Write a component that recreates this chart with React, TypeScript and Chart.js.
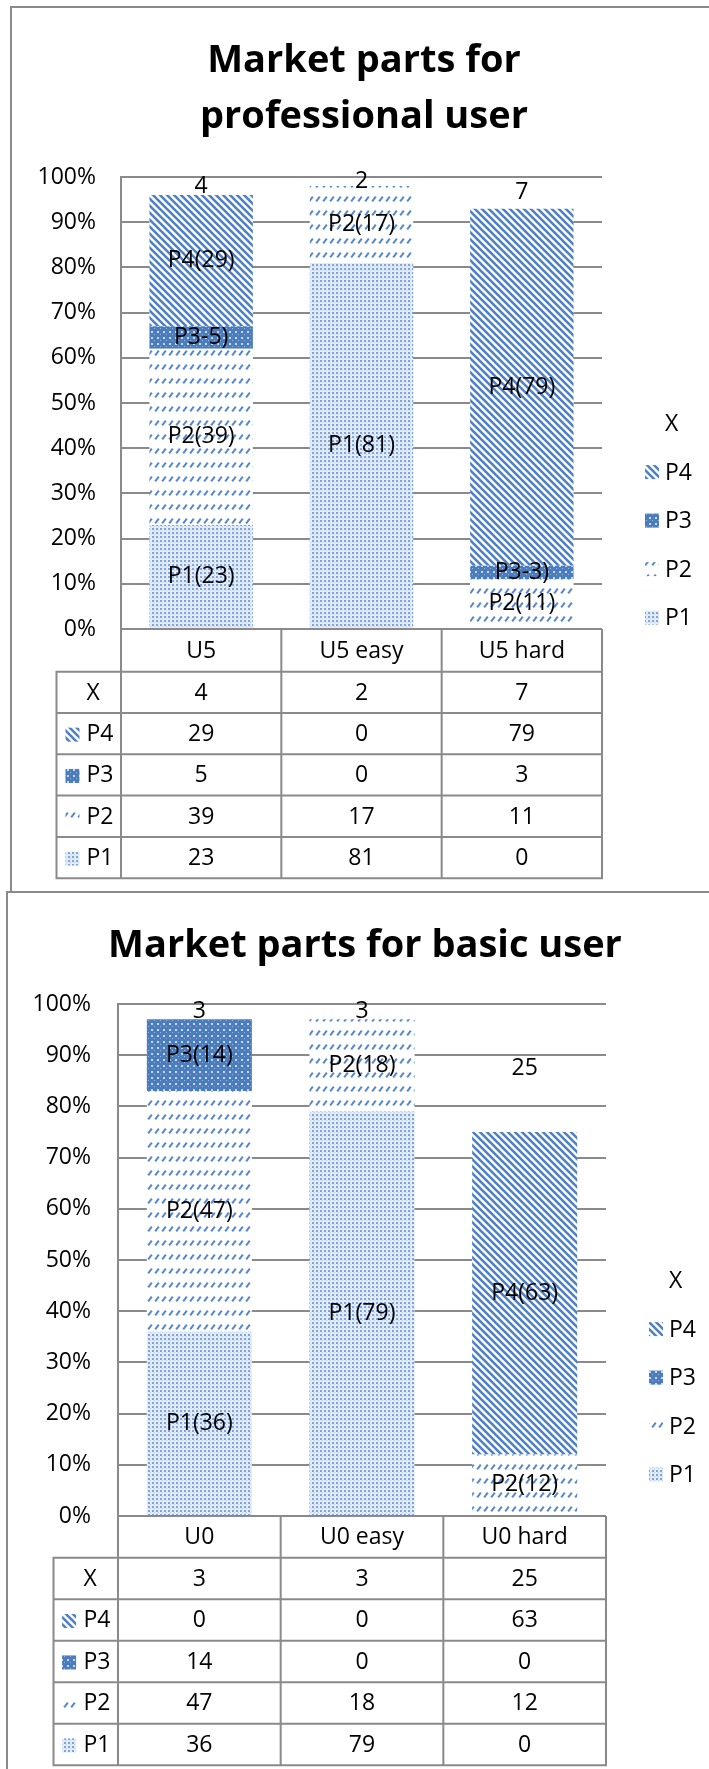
import React, { useEffect, useRef } from "react";
import { Chart, registerables } from "chart.js";

Chart.register(...registerables);

// ---------------- data ----------------
const seriesNames = ["P1", "P2", "P3", "P4", "X"];

const proTitle = ["Market parts for", "professional user"];
const proCategories = ["U5", "U5 easy", "U5 hard"];
const proP1 = [23, 81, 0];
const proP2 = [39, 17, 11];
const proP3 = [5, 0, 3];
const proP4 = [29, 0, 79];
const proX = [4, 2, 7];
const proLabelFormats = ["P1({v})", "P2({v})", "P3-{v})", "P4({v})", "{v}"];

const basicTitle = ["Market parts for basic user"];
const basicCategories = ["U0", "U0 easy", "U0 hard"];
const basicP1 = [36, 79, 0];
const basicP2 = [47, 18, 12];
const basicP3 = [14, 0, 0];
const basicP4 = [0, 0, 63];
const basicX = [3, 3, 25];
const basicLabelFormats = ["P1({v})", "P2({v})", "P3({v})", "P4({v})", "{v}"];

const yMin = 0;
const yMax = 100;
const yStep = 10;
const yTickSuffix = "%";

// ---------------- styles ----------------
const FONT = "'Open Sans', Lato, sans-serif";
const FONT_SIZE = 23;
const TITLE_SIZE = 38;
const GRID = "#8a8a8a";
const TEXT = "#000000";

function tile(w: number, h: number, draw: (c: CanvasRenderingContext2D) => void) {
  const cv = document.createElement("canvas");
  cv.width = w;
  cv.height = h;
  const c = cv.getContext("2d")!;
  draw(c);
  return c.createPattern(cv, "repeat") as CanvasPattern;
}

function makePatterns() {
  const p1 = tile(4, 4, (c) => {
    c.fillStyle = "#e4ecf8";
    c.fillRect(0, 0, 4, 4);
    c.fillStyle = "#7fa3da";
    c.fillRect(0, 0, 2, 2);
    c.fillStyle = "#bccfec";
    c.fillRect(2, 2, 1, 1);
  });
  const p2 = tile(7, 14, (c) => {
    c.fillStyle = "#ffffff";
    c.fillRect(0, 0, 7, 14);
    c.strokeStyle = "#5586d0";
    c.lineWidth = 2;
    c.beginPath();
    c.moveTo(1.2, 5.4);
    c.lineTo(4.8, 0.6);
    c.stroke();
  });
  const p3 = tile(6, 6, (c) => {
    c.fillStyle = "#4a7cc0";
    c.fillRect(0, 0, 6, 6);
    c.fillStyle = "rgba(255,255,255,0.7)";
    c.fillRect(1, 1, 2, 2);
    c.fillStyle = "rgba(255,255,255,0.45)";
    c.fillRect(4, 4, 1, 1);
  });
  const p4 = tile(7, 7, (c) => {
    c.fillStyle = "#ffffff";
    c.fillRect(0, 0, 7, 7);
    c.strokeStyle = "#4f81c4";
    c.lineWidth = 2.6;
    c.beginPath();
    for (let k = -1; k <= 2; k++) {
      c.moveTo(k * 7 - 3, -3);
      c.lineTo(k * 7 + 10, 10);
    }
    c.stroke();
  });
  return [p1, p2, p3, p4, "rgba(0,0,0,0)"];
}

const marketPlugin = {
  id: "marketTable",
  afterDatasetsDraw(chart: any) {
    const o = chart.options.plugins.marketTable;
    const ctx = chart.ctx;
    ctx.save();
    ctx.font = `${o.fontSize}px ${FONT}`;
    ctx.fillStyle = TEXT;
    ctx.textAlign = "center";
    ctx.textBaseline = "middle";
    chart.data.datasets.forEach((ds: any, di: number) => {
      const meta = chart.getDatasetMeta(di);
      meta.data.forEach((bar: any, i: number) => {
        const v = ds.data[i];
        if (!v) return;
        const p = bar.getProps(["x", "y", "base"], true);
        const txt = o.labelFormats[di].replace("{v}", String(v));
        ctx.fillText(txt, p.x, (p.y + p.base) / 2);
      });
    });
    ctx.restore();
  },
  afterDraw(chart: any) {
    const o = chart.options.plugins.marketTable;
    const ctx = chart.ctx;
    const area = chart.chartArea;
    const xs = chart.scales.x;
    const labels = chart.data.labels as string[];
    const datasets = chart.data.datasets;
    const n = labels.length;
    const half = (area.right - area.left) / n / 2;
    const edges: number[] = [];
    for (let i = 0; i < n; i++) edges.push(xs.getPixelForValue(i) - half);
    edges.push(xs.getPixelForValue(n - 1) + half);

    const catTop = area.bottom;
    const catBot = catTop + o.catH;
    const order = [4, 3, 2, 1, 0];
    const tableBottom = catBot + order.length * o.rowH;
    const labelLeft = area.left - o.labelColW;

    ctx.save();
    ctx.font = `${o.fontSize}px ${FONT}`;
    ctx.fillStyle = TEXT;
    ctx.textBaseline = "middle";

    // category row
    ctx.textAlign = "center";
    labels.forEach((lab, i) => {
      ctx.fillText(lab, xs.getPixelForValue(i), (catTop + catBot) / 2 + 1);
    });
    // rows
    order.forEach((di, r) => {
      const top = catBot + r * o.rowH;
      const cy = top + o.rowH / 2 + 1;
      const ds = datasets[di];
      if (di !== 4) {
        ctx.fillStyle = ds.backgroundColor;
        ctx.fillRect(labelLeft + o.iconDx, cy - 7, 14, 14);
      }
      ctx.fillStyle = TEXT;
      ctx.textAlign = "left";
      ctx.fillText(ds.label, labelLeft + o.textDx, cy);
      ctx.textAlign = "center";
      ds.data.forEach((v: number, i: number) => {
        ctx.fillText(String(v), xs.getPixelForValue(i), cy);
      });
    });

    // lines
    ctx.strokeStyle = GRID;
    ctx.lineWidth = 2;
    ctx.beginPath();
    ctx.moveTo(area.left, catTop);
    ctx.lineTo(area.right, catTop);
    for (let r = 0; r <= order.length; r++) {
      const y = catBot + r * o.rowH;
      ctx.moveTo(labelLeft - 1, y);
      ctx.lineTo(area.right + 1, y);
    }
    edges.forEach((x) => {
      ctx.moveTo(x, catTop);
      ctx.lineTo(x, tableBottom + 1);
    });
    ctx.moveTo(labelLeft, catBot);
    ctx.lineTo(labelLeft, tableBottom + 1);
    ctx.stroke();

    // legend
    const mid = (area.top + tableBottom) / 2 + o.legendShift;
    order.forEach((di, k) => {
      const cy = mid + (k - 2) * o.legendGap;
      const ds = datasets[di];
      if (di !== 4) {
        ctx.fillStyle = ds.backgroundColor;
        ctx.fillRect(area.right + o.legendIconDx, cy - 7, 14, 14);
      }
      ctx.fillStyle = TEXT;
      ctx.textAlign = "left";
      ctx.fillText(ds.label, area.right + o.legendTextDx, cy + 1);
    });
    ctx.restore();
  },
};

type Cfg = {
  top: number;
  width: number;
  height: number;
  title: string[];
  titlePadTop: number;
  titlePadBottom: number;
  categories: string[];
  series: number[][];
  labelFormats: string[];
  padLeft: number;
  padBottom: number;
  yAxisWidth: number;
  tickPad: number;
  rightSpace: number;
  barPct: number;
  catH: number;
  rowH: number;
  labelColW: number;
  iconDx: number;
  textDx: number;
};

function MarketChart({ cfg }: { cfg: Cfg }) {
  const ref = useRef<HTMLCanvasElement>(null);
  useEffect(() => {
    const canvas = ref.current!;
    const pats = makePatterns();
    const chart = new Chart(canvas, {
      type: "bar",
      data: {
        labels: cfg.categories,
        datasets: seriesNames.map((name, i) => ({
          label: name,
          data: cfg.series[i],
          backgroundColor: pats[i] as any,
          borderWidth: 0,
          barPercentage: cfg.barPct,
          categoryPercentage: 1,
          stack: "s",
        })),
      },
      options: {
        responsive: false,
        animation: false,
        devicePixelRatio: 1,
        layout: { padding: { left: cfg.padLeft, right: 0, top: 0, bottom: cfg.padBottom } },
        plugins: {
          legend: { display: false },
          tooltip: { enabled: false },
          title: {
            display: true,
            text: cfg.title,
            color: TEXT,
            font: { family: FONT, size: TITLE_SIZE, weight: "bold", lineHeight: 56 / TITLE_SIZE },
            padding: { top: cfg.titlePadTop, bottom: cfg.titlePadBottom },
          },
          marketTable: {
            labelFormats: cfg.labelFormats,
            fontSize: FONT_SIZE,
            catH: cfg.catH,
            rowH: cfg.rowH,
            labelColW: cfg.labelColW,
            iconDx: cfg.iconDx,
            textDx: cfg.textDx,
            legendShift: -7,
            legendGap: 48.5,
            legendIconDx: 43,
            legendTextDx: 63,
          },
        } as any,
        scales: {
          x: { stacked: true, display: false },
          y: {
            stacked: true,
            min: yMin,
            max: yMax,
            ticks: {
              stepSize: yStep,
              color: TEXT,
              padding: cfg.tickPad,
              font: { family: FONT, size: FONT_SIZE },
              callback: (v: any) => `${v}${yTickSuffix}`,
            },
            grid: { color: GRID, lineWidth: 2, drawTicks: false },
            border: { display: true, color: GRID, width: 2 },
            afterFit: (s: any) => {
              s.width = cfg.yAxisWidth;
            },
          },
          yR: {
            position: "right",
            display: true,
            grid: { display: false },
            border: { display: false },
            ticks: { display: false },
            afterFit: (s: any) => {
              s.width = cfg.rightSpace;
            },
          },
        } as any,
      },
      plugins: [marketPlugin as any],
    });
    let alive = true;
    if ((document as any).fonts) {
      Promise.all([
        (document as any).fonts.load(`${FONT_SIZE}px 'Open Sans'`),
        (document as any).fonts.load(`bold ${TITLE_SIZE}px 'Open Sans'`),
      ]).then(() => {
        if (alive) chart.update();
      });
    }
    return () => {
      alive = false;
      chart.destroy();
    };
  }, [cfg]);
  return (
    <canvas
      ref={ref}
      width={cfg.width}
      height={cfg.height}
      style={{ position: "absolute", left: 0, top: cfg.top, width: cfg.width, height: cfg.height, display: "block" }}
    />
  );
}

const proCfg: Cfg = {
  top: 0,
  width: 709,
  height: 890,
  title: proTitle,
  titlePadTop: 33,
  titlePadBottom: 32,
  categories: proCategories,
  series: [proP1, proP2, proP3, proP4, proX],
  labelFormats: proLabelFormats,
  padLeft: 19,
  padBottom: 261,
  yAxisWidth: 102,
  tickPad: 25,
  rightSpace: 107,
  barPct: 0.645,
  catH: 42.7,
  rowH: 41.3,
  labelColW: 64.5,
  iconDx: 9,
  textDx: 30,
};

const basicCfg: Cfg = {
  top: 890,
  width: 709,
  height: 879,
  title: basicTitle,
  titlePadTop: 28,
  titlePadBottom: 30,
  categories: basicCategories,
  series: [basicP1, basicP2, basicP3, basicP4, basicX],
  labelFormats: basicLabelFormats,
  padLeft: 21,
  padBottom: 253,
  yAxisWidth: 97,
  tickPad: 27,
  rightSpace: 103,
  barPct: 0.646,
  catH: 41.7,
  rowH: 41.5,
  labelColW: 64.5,
  iconDx: 8.6,
  textDx: 30,
};

export default function App() {
  return (
    <div
      style={{
        position: "absolute",
        left: 0,
        top: 0,
        width: 709,
        height: 1769,
        overflow: "hidden",
        background: "#ffffff",
      }}
    >
      <div
        style={{
          position: "absolute",
          left: 10,
          top: 6,
          width: 720,
          height: 883,
          borderLeft: `2px solid ${GRID}`,
          borderTop: `2px solid ${GRID}`,
        }}
      />
      <div
        style={{
          position: "absolute",
          left: 6,
          top: 891,
          width: 720,
          height: 900,
          borderLeft: `2px solid ${GRID}`,
          borderTop: `2px solid ${GRID}`,
        }}
      />
      <MarketChart cfg={proCfg} />
      <MarketChart cfg={basicCfg} />
    </div>
  );
}
